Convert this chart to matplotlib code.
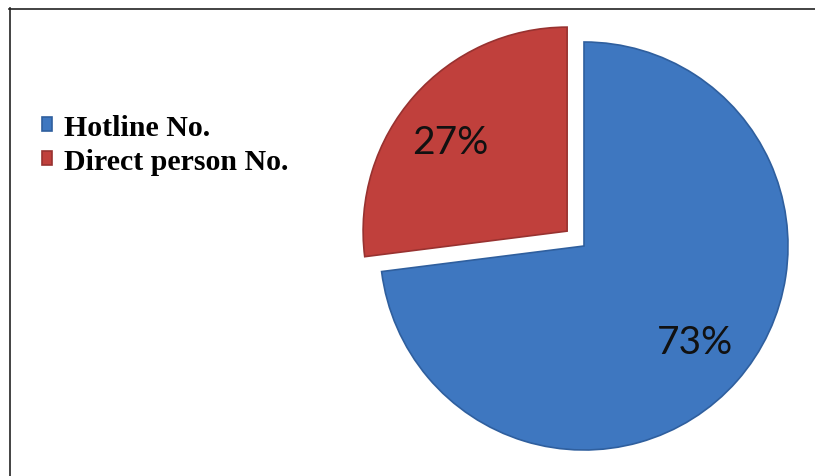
import matplotlib.pyplot as plt
from matplotlib.lines import Line2D

labels = ["Hotline No.", "Direct person No."]
shares = [73, 27]
colors = ["#3e77c0", "#c0403c"]
edges = ["#2f5f9e", "#983230"]
explode = [0, 22.5]

W, H = 815, 477
fig = plt.figure(figsize=(W / 100, H / 100), dpi=100)
ax = fig.add_axes([0, 0, 1, 1])

# the axes are in pixel units, so explode is in pixels too
wedges, _ = ax.pie(shares, colors=colors, explode=explode, startangle=90,
                   counterclock=False, center=(584, H - 247), radius=204,
                   wedgeprops=dict(linewidth=1.2), frame=False)
for w, ec in zip(wedges, edges):
    w.set_edgecolor(ec)

ax.set_xlim(0, W)
ax.set_ylim(0, H)
ax.set_aspect("equal")
ax.axis("off")

# percentage labels
ax.text(695, H - 343, f"{shares[0]}%", ha="center", va="center",
        fontsize=28, family="Lato", color="#111111")
ax.text(450, H - 143, f"{shares[1]}%", ha="center", va="center",
        fontsize=28, family="Lato", color="#111111")

leg = ax.legend(wedges, labels, loc="upper left", bbox_to_anchor=(42 / W, 1 - 115 / H),
                frameon=False, handlelength=0.32, handleheight=0.36, handletextpad=0.4,
                labelspacing=0.22, borderaxespad=0, borderpad=0,
                prop=dict(family="Liberation Serif", weight="bold", size=21.5))

# chart border (top and left edges visible)
fig.add_artist(Line2D([9 / W, 1], [1 - 9.5 / H, 1 - 9.5 / H], transform=fig.transFigure,
                      color="#222222", lw=1.2))
fig.add_artist(Line2D([9.5 / W, 9.5 / W], [0, 1 - 9 / H], transform=fig.transFigure,
                      color="#222222", lw=1.2))

fig.savefig("out.png", dpi=100, facecolor="white")
